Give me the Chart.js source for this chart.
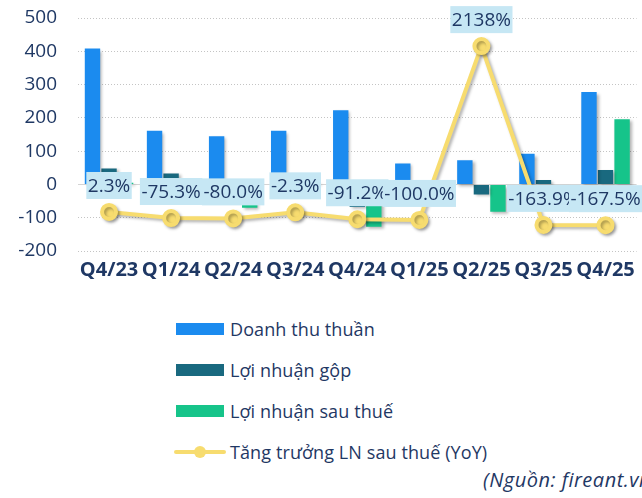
<!DOCTYPE html>
<html>
<head>
<meta charset="utf-8">
<script src="https://cdn.jsdelivr.net/npm/chart.js@4"></script>
<style>
  html, body { margin: 0; padding: 0; background: #ffffff; width: 642px; height: 498px; overflow: hidden; }
  #wrap { position: absolute; left: 0; top: 0; width: 642px; height: 290px; }
  #legend { position: absolute; left: 174px; top: 308px; font-family: 'Open Sans', sans-serif; font-size: 18px; letter-spacing: 0.1px; color: #1f3864; }
  .row { height: 41px; display: flex; align-items: center; white-space: nowrap; }
  .sw { width: 48px; height: 12px; margin-left: 2px; margin-right: 6px; }
  .ln { position: relative; width: 52px; height: 12px; margin-right: 4px; }
  .ln .bar { position: absolute; left: 0; right: 0; top: 4px; height: 4px; border-radius: 2px; }
  .ln .dot { position: absolute; left: 20px; top: 0; width: 12px; height: 12px; border-radius: 6px; }
  #src { position: absolute; left: 483px; top: 467px; font-family: 'Open Sans', sans-serif; font-style: italic; font-size: 20px; letter-spacing: 0.5px; color: #1f3864; white-space: nowrap; line-height: 26px; }
</style>
</head>
<body>
<div id="wrap"><canvas id="c" width="642" height="290"></canvas></div>
<div id="legend"></div>
<div id="src">(Nguồn: fireant.vn)</div>
<script>
const categories = ['Q4/23','Q1/24','Q2/24','Q3/24','Q4/24','Q1/25','Q2/25','Q3/25','Q4/25'];
const revenue     = [408, 161, 145, 161, 223, 63, 73, 92, 278];
const grossProfit = [48, 33, 8, 12, -68, 6, -30, 13, 43];
const netProfit   = [5, 3, -70, 6, -127, 0, -82, -20, 196];
const yoyGrowth   = [2.3, -75.3, -80.0, -2.3, -91.2, -100.0, 2138, -163.9, -167.5];
const yTicks = [-200, -100, 0, 100, 200, 300, 400, 500];

const NAVY = '#1f3864';
const C_REV = '#1b8bef', C_GP = '#19697f', C_NP = '#16c48a', C_YOY = '#f7dc6f';

function fmtPct(v) { return (Math.abs(v) >= 1000 ? Math.round(v).toString() : v.toFixed(1)) + '%'; }

const shadowPlugin = {
  id: 'shadowAndLabels',
  beforeDatasetsDraw(chart) {
    const ctx = chart.ctx;
    ctx.save();
    ctx.shadowColor = 'rgba(0,0,0,0.30)';
    ctx.shadowOffsetX = 2;
    ctx.shadowOffsetY = 2;
    ctx.shadowBlur = 3;
  },
  afterDatasetsDraw(chart) {
    const ctx = chart.ctx;
    ctx.restore();
    const meta = chart.getDatasetMeta(3);
    ctx.save();
    ctx.font = "19px 'Open Sans', sans-serif";
    ctx.textAlign = 'center';
    ctx.textBaseline = 'middle';
    meta.data.forEach((pt, i) => {
      const txt = fmtPct(yoyGrowth[i]);
      const w = ctx.measureText(txt).width + 3;
      const h = 27;
      const bottom = pt.y - 13;
      ctx.fillStyle = '#c6e7f4';
      ctx.fillRect(pt.x - w / 2, bottom - h, w, h);
      ctx.fillStyle = NAVY;
      ctx.fillText(txt, pt.x, bottom - h / 2 + 1);
    });
    ctx.restore();
  }
};

const chart = new Chart(document.getElementById('c'), {
  data: {
    labels: categories,
    datasets: [
      { type: 'bar', label: 'Doanh thu thuần', data: revenue, backgroundColor: C_REV, order: 1, yAxisID: 'y' },
      { type: 'bar', label: 'Lợi nhuận gộp', data: grossProfit, backgroundColor: C_GP, order: 1, yAxisID: 'y' },
      { type: 'bar', label: 'Lợi nhuận sau thuế', data: netProfit, backgroundColor: C_NP, order: 1, yAxisID: 'y' },
      { type: 'line', label: 'Tăng trưởng LN sau thuế (YoY)', data: yoyGrowth, borderColor: C_YOY, backgroundColor: C_YOY,
        pointBackgroundColor: C_YOY, pointBorderColor: C_YOY, pointRadius: 7, borderWidth: 4, tension: 0, order: 0, yAxisID: 'y2', clip: false }
    ]
  },
  options: {
    responsive: false,
    animation: false,
    devicePixelRatio: 1,
    layout: { autoPadding: false, padding: { top: 18, right: 4, left: 0, bottom: 0 } },
    datasets: { bar: { categoryPercentage: 0.8, barPercentage: 0.93 } },
    plugins: { legend: { display: false }, tooltip: { enabled: false } },
    scales: {
      x: {
        grid: { display: false, drawTicks: false },
        border: { display: false },
        ticks: { padding: 7, color: NAVY, font: { family: "'Open Sans', sans-serif", size: 20, weight: 'bold' }, maxRotation: 0, autoSkip: false },
        afterFit(s) { s.height = 39; }
      },
      y: {
        min: -200, max: 500,
        afterBuildTicks(s) { s.ticks = yTicks.map(v => ({ value: v })); },
        grid: { drawTicks: false, color: ctx => ctx.tick && ctx.tick.value === 0 ? '#d4d4d4' : '#c4c4c4', lineWidth: 1 },
        border: { display: false, dash: ctx => ctx.tick && ctx.tick.value === 0 ? [] : [1, 2] },
        ticks: { padding: 21, color: NAVY, font: { family: "'Open Sans', sans-serif", size: 19 } },
        afterFit(s) { s.width = 78; s.paddingTop = 0; s.paddingBottom = 0; }
      },
      y2: { display: false, min: -500, max: 2500 }
    }
  },
  plugins: [shadowPlugin]
});

// HTML legend built from datasets
const lg = document.getElementById('legend');
chart.data.datasets.forEach(ds => {
  const row = document.createElement('div');
  row.className = 'row';
  if (ds.type === 'line') {
    const ln = document.createElement('div'); ln.className = 'ln';
    const b = document.createElement('div'); b.className = 'bar'; b.style.background = ds.borderColor;
    const d = document.createElement('div'); d.className = 'dot'; d.style.background = ds.borderColor;
    ln.appendChild(b); ln.appendChild(d); row.appendChild(ln);
  } else {
    const sw = document.createElement('div'); sw.className = 'sw'; sw.style.background = ds.backgroundColor;
    row.appendChild(sw);
  }
  const t = document.createElement('span'); t.textContent = ds.label; row.appendChild(t);
  lg.appendChild(row);
});
</script>
</body>
</html>
